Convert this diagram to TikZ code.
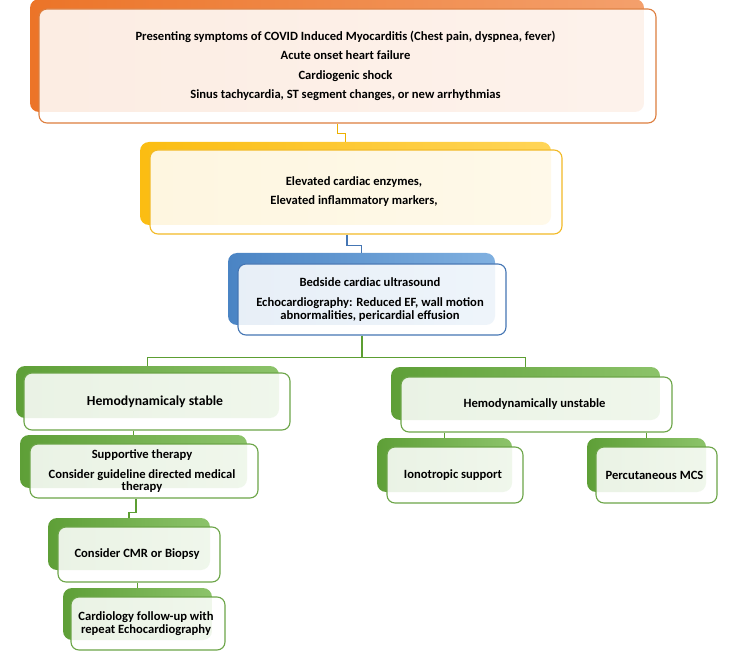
\documentclass[tikz,border=0pt]{standalone}
\usepackage{fontspec}
\setmainfont{Carlito}
\usetikzlibrary{fit}
\definecolor{OrA}{HTML}{EC7428}
\definecolor{OrB}{HTML}{F4A06C}
\definecolor{OrL}{HTML}{DD7E3E}
\definecolor{YeA}{HTML}{FBBD12}
\definecolor{YeB}{HTML}{FFD558}
\definecolor{YeL}{HTML}{F2BA26}
\definecolor{YeC}{HTML}{EDB000}
\definecolor{BlA}{HTML}{4A84C4}
\definecolor{BlB}{HTML}{80B0E0}
\definecolor{BlL}{HTML}{4576B4}
\definecolor{GrA}{HTML}{5E9F37}
\definecolor{GrB}{HTML}{8CC36A}
\definecolor{GrL}{HTML}{6CA548}
\definecolor{GrC}{HTML}{5C9E32}
\tikzset{
 backbox/.style={rounded corners=9pt, inner sep=0pt, draw=none},
 obox/.style={backbox, left color=OrA, right color=OrB},
 ybox/.style={backbox, left color=YeA, right color=YeB},
 bbox/.style={backbox, left color=BlA, right color=BlB},
 gbox/.style={backbox, left color=GrA, right color=GrB},
 frontbox/.style={rounded corners=8pt, fill=white, fill opacity=0.87,
   line width=1.1pt, inner sep=0pt},
 ofront/.style={frontbox, draw=OrL},
 yfront/.style={frontbox, draw=YeL},
 bfront/.style={frontbox, draw=BlL},
 gfront/.style={frontbox, draw=GrL},
 txt/.style={align=center, inner sep=0pt, xshift=-2pt,
   font=\bfseries\fontsize{12.6}{12.4}\selectfont},
 link/.style={line width=1.5pt, draw=#1},
}
\begin{document}
\begin{tikzpicture}[x=1pt,y=-1pt]
\path[use as bounding box] (0,0) rectangle (739,652);
% box 1
\node[obox, fit={(30,-1)(644,112)}] (b1) {};
\node[ofront, fit={(39,9)(656,123)}] (n1) {};
\node[txt, font=\bfseries\fontsize{12.6}{19.4}\selectfont] (t1) at (n1.center)
 {Presenting symptoms of COVID Induced Myocarditis (Chest pain, dyspnea, fever)\\
  Acute onset heart failure\\ Cardiogenic shock\\
  Sinus tachycardia, ST segment changes, or new arrhythmias};
% box 2
\node[ybox, fit={(140,142)(551,225)}] (b2) {};
\node[yfront, fit={(150,150)(562,234)}] (n2) {};
\node[txt, font=\bfseries\fontsize{12.6}{19}\selectfont] (t2) at (n2.center)
 {Elevated cardiac enzymes,\\ Elevated inflammatory markers,};
% box 3
\node[bbox, fit={(228,253)(495,325)}] (b3) {};
\node[bfront, fit={(238,264)(506,335)}] (n3) {};
\node[txt] (t3) at (n3.center)
 {Bedside cardiac ultrasound\\[7.6pt] Echocardiography: Reduced EF, wall motion\\ abnormalities, pericardial effusion};
% stable branch
\node[gbox, fit={(16,366)(279,418)}] (b4) {};
\node[gfront, fit={(24,373)(290,430)}] (n4) {};
\node[txt, font=\bfseries\fontsize{13.7}{15}\selectfont] (t4) at (n4.center) {Hemodynamicaly stable};
\node[gbox, fit={(20,435)(247,488)}] (b5) {};
\node[gfront, fit={(30,444)(258,498)}] (n5) {};
\node[txt] (t5) at (n5.center)
 {Supportive therapy\\[7.6pt] Consider guideline directed medical\\ therapy};
\node[gbox, fit={(48,518)(210,570)}] (b6) {};
\node[gfront, fit={(58,527)(220,582)}] (n6) {};
\node[txt] (t6) at (n6.center) {Consider CMR or Biopsy};
\node[gbox, fit={(63,588)(212,640)}] (b7) {};
\node[gfront, fit={(71,597)(225,650)}] (n7) {};
\node[txt] (t7) at (n7.center) {Cardiology follow-up with\\ repeat Echocardiography};
% unstable branch
\node[gbox, fit={(391,367)(660,420)}] (b8) {};
\node[gfront, fit={(401,377)(672,432)}] (n8) {};
\node[txt] (t8) at (n8.center) {Hemodynamically unstable};
\node[gbox, fit={(377,438)(512,492)}] (b9) {};
\node[gfront, fit={(387,447)(523,503)}] (n9) {};
\node[txt] (t9) at (n9.center) {Ionotropic support};
\node[gbox, fit={(587,438)(706,492)}] (b10) {};
\node[gfront, fit={(596,447)(717,503)}] (n10) {};
\node[txt] (t10) at (n10.center) {Percutaneous MCS};
% connectors
\draw[link=YeC] ([xshift=-10pt]n1.south) -- ++(0,10) -| (b2.north);
\draw[link=BlL] ([xshift=-9pt]n2.south) -- ++(0,11) -| (b3.north);
\draw[link=GrC] ([xshift=-10pt]n3.south) -- ++(0,22) coordinate (hub);
\draw[link=GrC] (hub) -| (b4.north);
\draw[link=GrC] (hub) -| (b8.north);
\draw[link=GrC] (b5.north |- n4.south) -- (b5.north);
\draw[link=GrC] ([xshift=-8pt]n5.south) -- ++(0,14) -| (b6.north);
\draw[link=GrC] (b7.north |- n6.south) -- (b7.north);
\draw[link=GrC] (b9.north |- n8.south) -- (b9.north);
\draw[link=GrC] (b10.north |- n8.south) -- (b10.north);
\end{tikzpicture}
\end{document}
